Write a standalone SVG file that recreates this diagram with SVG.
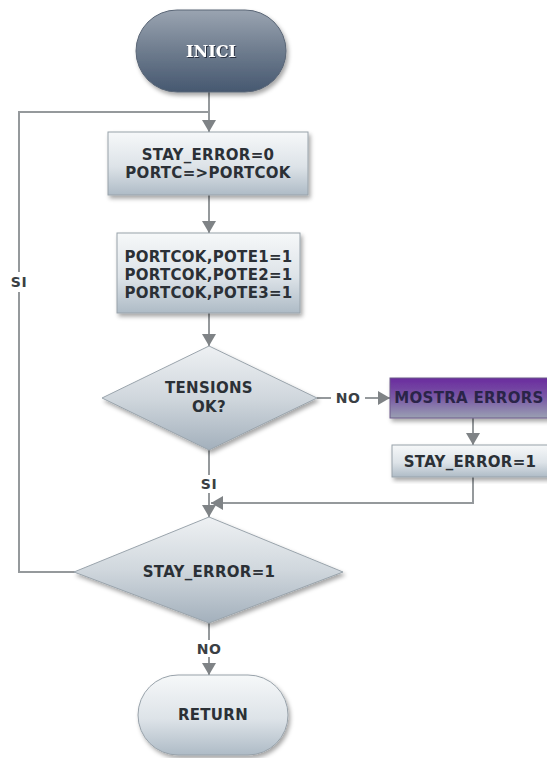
<svg xmlns="http://www.w3.org/2000/svg" width="547" height="758" viewBox="0 0 547 758">
  <defs>
    <linearGradient id="gPillDark" x1="0" y1="0" x2="0" y2="1">
      <stop offset="0" stop-color="#9aa4b1"/>
      <stop offset="0.5" stop-color="#6e7c8e"/>
      <stop offset="1" stop-color="#465870"/>
    </linearGradient>
    <linearGradient id="gLight" x1="0" y1="0" x2="0" y2="1">
      <stop offset="0" stop-color="#f6f8f9"/>
      <stop offset="0.55" stop-color="#dde3e8"/>
      <stop offset="1" stop-color="#aebbc6"/>
    </linearGradient>
    <linearGradient id="gDiamond" x1="0" y1="0" x2="0" y2="1">
      <stop offset="0" stop-color="#eef1f3"/>
      <stop offset="0.5" stop-color="#d0d7dd"/>
      <stop offset="1" stop-color="#a3b0bc"/>
    </linearGradient>
    <linearGradient id="gPurple" x1="0" y1="0" x2="0" y2="1">
      <stop offset="0" stop-color="#6a2a9e"/>
      <stop offset="0.5" stop-color="#7a5aa6"/>
      <stop offset="1" stop-color="#9aa0b2"/>
    </linearGradient>
    <filter id="shadow" x="-10%" y="-10%" width="125%" height="130%">
      <feDropShadow dx="2" dy="3" stdDeviation="2" flood-color="#000" flood-opacity="0.35"/>
    </filter>
    <filter id="txtShadow" x="-10%" y="-30%" width="120%" height="160%">
      <feDropShadow dx="1" dy="1" stdDeviation="0.6" flood-color="#1c2430" flood-opacity="0.8"/>
    </filter>
    <marker id="arrow" viewBox="0 0 12 18" refX="12" refY="9" markerWidth="12" markerHeight="18" markerUnits="userSpaceOnUse" orient="auto">
      <path d="M0,2 L12,9 L0,16 Z" fill="#7f8386"/>
    </marker>
  </defs>
  <style>
    .edge { fill: none; stroke: #95999c; stroke-width: 2; }
    .box { fill: url(#gLight); stroke: #98a2aa; stroke-width: 1; filter: url(#shadow); }
    .dia { fill: url(#gDiamond); stroke: #9aa4ac; stroke-width: 1; filter: url(#shadow); }
    .lbl { font-family: "DejaVu Sans", Verdana, sans-serif; font-weight: bold; font-size: 15px; fill: #2b3036; text-anchor: middle; letter-spacing: 0.3px; }
    .elbl { font-family: "DejaVu Sans", Verdana, sans-serif; font-weight: bold; font-size: 14px; fill: #3a3f44; text-anchor: middle; letter-spacing: 0.5px; }
  </style>

  <rect width="547" height="758" fill="#ffffff"/>

  <!-- connectors -->
  <g id="connectors">
    <line class="edge" x1="209" y1="92" x2="209" y2="132"/>
    <polyline class="edge" points="75,572 19,572 19,112 209,112"/>
    <line class="edge" x1="209" y1="114" x2="209" y2="132" marker-end="url(#arrow)"/>
    <line class="edge" x1="209" y1="195" x2="209" y2="233" marker-end="url(#arrow)"/>
    <line class="edge" x1="209" y1="313" x2="209" y2="346" marker-end="url(#arrow)"/>
    <line class="edge" x1="317" y1="398" x2="331" y2="398"/>
    <line class="edge" x1="365" y1="398" x2="390" y2="398" marker-end="url(#arrow)"/>
    <line class="edge" x1="473" y1="418" x2="473" y2="445" marker-end="url(#arrow)"/>
    <line class="edge" x1="209" y1="450" x2="209" y2="475"/>
    <line class="edge" x1="209" y1="493" x2="209" y2="517" marker-end="url(#arrow)"/>
    <polyline class="edge" points="473,477 473,503 222,503"/>
    <line class="edge" x1="230" y1="503" x2="211" y2="503" marker-end="url(#arrow)"/>
    <line class="edge" x1="209" y1="623" x2="209" y2="640"/>
    <line class="edge" x1="209" y1="657" x2="209" y2="675" marker-end="url(#arrow)"/>
    <rect x="5" y="272" width="28" height="20" fill="#ffffff"/>
    <text class="elbl" x="19" y="287">SI</text>
    <text class="elbl" x="348" y="403">NO</text>
    <text class="elbl" x="209" y="489">SI</text>
    <text class="elbl" x="209" y="654">NO</text>
  </g>

  <!-- start terminal -->
  <g id="inici">
    <rect x="136" y="10" width="150" height="82" rx="41" ry="41" fill="url(#gPillDark)" stroke="#5a6676" stroke-width="1" filter="url(#shadow)"/>
    <text x="211" y="57" font-family="'DejaVu Serif', 'Liberation Serif', serif" font-weight="bold" font-size="16" fill="#ffffff" text-anchor="middle" filter="url(#txtShadow)">INICI</text>
  </g>

  <!-- init step -->
  <g id="init">
    <rect class="box" x="108" y="132" width="200" height="63"/>
    <text class="lbl" x="208" y="159.5">STAY_ERROR=0</text>
    <text class="lbl" x="208" y="177.5">PORTC=&gt;PORTCOK</text>
  </g>

  <!-- ports step -->
  <g id="ports">
    <rect class="box" x="117" y="233" width="183" height="80"/>
    <text class="lbl" x="208.5" y="262">PORTCOK,POTE1=1</text>
    <text class="lbl" x="208.5" y="280">PORTCOK,POTE2=1</text>
    <text class="lbl" x="208.5" y="298">PORTCOK,POTE3=1</text>
  </g>

  <!-- voltage check -->
  <g id="tensions">
    <polygon class="dia" points="209,346 317,398 209,450 102,398"/>
    <text class="lbl" x="209" y="393">TENSIONS</text>
    <text class="lbl" x="209" y="412">OK?</text>
  </g>

  <!-- error display -->
  <g id="mostra">
    <rect x="390" y="378" width="160" height="40" fill="url(#gPurple)" stroke="#6d5b8a" stroke-width="1" filter="url(#shadow)"/>
    <text class="lbl" x="469" y="403" style="fill:#2a2448">MOSTRA ERRORS</text>
  </g>

  <!-- error flag -->
  <g id="seterror">
    <rect class="box" x="392" y="445" width="158" height="32"/>
    <text class="lbl" x="470" y="467">STAY_ERROR=1</text>
  </g>

  <!-- error check -->
  <g id="staycheck">
    <polygon class="dia" points="209,517 343,572 209,623 74,572"/>
    <text class="lbl" x="209" y="577">STAY_ERROR=1</text>
  </g>

  <!-- end terminal -->
  <g id="return">
    <rect x="138" y="675" width="150" height="80" rx="40" ry="40" fill="url(#gLight)" stroke="#98a2aa" stroke-width="1" filter="url(#shadow)"/>
    <text class="lbl" x="213" y="720">RETURN</text>
  </g>
</svg>
